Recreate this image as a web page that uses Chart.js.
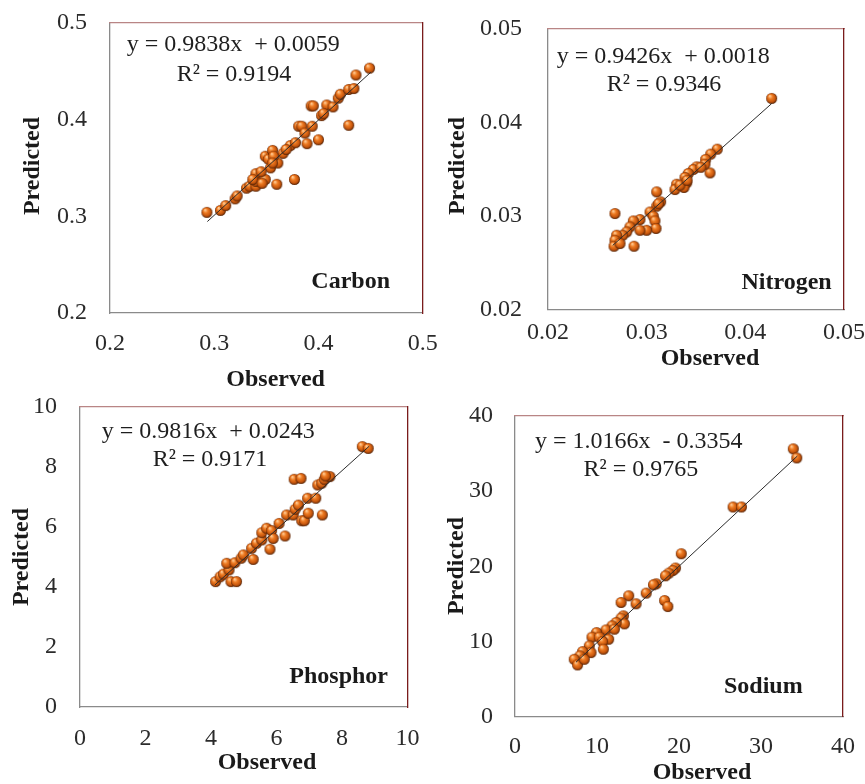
<!DOCTYPE html>
<html><head><meta charset="utf-8">
<script src="https://cdn.jsdelivr.net/npm/chart.js@4.4.1/dist/chart.umd.min.js"></script>
<style>
html,body{margin:0;padding:0;background:#fff;width:865px;height:784px;overflow:hidden;position:relative}
canvas{position:absolute;display:block}
</style></head><body>
<canvas id="c1" width="440" height="400" style="left:0px;top:0px"></canvas>
<canvas id="c2" width="445" height="400" style="left:430px;top:0px"></canvas>
<canvas id="c3" width="440" height="399" style="left:0px;top:385px"></canvas>
<canvas id="c4" width="445" height="399" style="left:430px;top:385px"></canvas>
<script>
// ---------------- DATA ----------------
const carbonObserved  = [0.293,0.306,0.311,0.320,0.322,0.331,0.334,0.340,0.340,0.340,0.349,0.360,0.377,0.349,0.352,0.356,0.354,0.361,0.366,0.373,0.378,0.381,0.384,0.387,0.389,0.394,0.400,0.403,0.393,0.395,0.408,0.414,0.419,0.421,0.429,0.434,0.429,0.436,0.449,0.405,0.357,0.345,0.337,0.356,0.369,0.346];
const carbonPredicted = [0.304,0.306,0.311,0.318,0.321,0.329,0.331,0.331,0.336,0.344,0.338,0.333,0.338,0.362,0.359,0.368,0.350,0.355,0.365,0.373,0.376,0.393,0.393,0.386,0.375,0.393,0.379,0.404,0.414,0.414,0.415,0.413,0.422,0.426,0.431,0.432,0.394,0.446,0.453,0.406,0.362,0.346,0.338,0.355,0.369,0.334];
const carbonTrendX = [0.2934, 0.4502];
const carbonTrendY = [0.2945, 0.4488];
const carbonTicks = [0.2, 0.3, 0.4, 0.5];

const nitrogenObserved  = [0.04267,0.03716,0.03649,0.03598,0.03642,0.03591,0.03507,0.03473,0.03422,0.03388,0.03406,0.03378,0.03304,0.03287,0.03338,0.03102,0.03142,0.03102,0.03034,0.03067,0.03084,0.03095,0.03000,0.02932,0.02932,0.02865,0.02831,0.02798,0.02757,0.02679,0.02696,0.02679,0.02669,0.02730,0.02872,0.03120,0.03410,0.03550];
const nitrogenPredicted = [0.04257,0.03714,0.03661,0.03604,0.03460,0.03553,0.03525,0.03497,0.03454,0.03411,0.03354,0.03304,0.03339,0.03282,0.03329,0.03257,0.03150,0.03104,0.03042,0.02996,0.02946,0.02865,0.02846,0.02961,0.02846,0.02946,0.02882,0.02828,0.02793,0.03025,0.02793,0.02739,0.02675,0.02704,0.02675,0.03130,0.03380,0.03520];
const nitrogenTrendX = [0.02656, 0.04267];
const nitrogenTrendY = [0.02684, 0.04202];
const nitrogenTicks = [0.02, 0.03, 0.04, 0.05];

const phosphorObserved  = [4.14,4.28,4.38,4.55,4.48,4.61,4.78,4.73,4.92,4.99,5.29,5.24,5.39,5.55,5.80,5.55,5.70,5.85,5.90,6.08,6.26,6.31,6.51,6.57,6.67,6.77,6.85,6.97,6.95,7.20,7.40,7.26,7.38,7.46,7.63,7.50,6.54,6.75,8.62,8.80];
const phosphorPredicted = [4.18,4.34,4.43,4.57,4.79,4.18,4.18,4.81,4.96,5.07,4.92,5.29,5.46,5.57,5.26,5.81,5.96,5.88,5.62,6.12,5.70,6.40,6.40,6.59,6.73,6.21,6.21,6.46,6.96,6.96,6.40,7.40,7.46,7.59,7.68,7.70,7.59,7.62,8.68,8.62];
const phosphorTrendX = [4.12, 8.83];
const phosphorTrendY = [4.068, 8.692];
const phosphorTicks = [0, 2, 4, 6, 8, 10];

const sodiumObserved  = [33.94,34.36,26.60,27.62,20.28,19.58,19.26,18.77,18.36,17.22,16.89,16.00,14.77,13.87,12.94,18.24,18.64,13.22,12.94,13.34,12.33,11.84,11.10,9.95,9.39,10.28,11.42,10.69,9.06,10.77,9.27,8.24,7.92,7.22,7.63,8.45,12.12];
const sodiumPredicted = [35.63,34.42,27.89,27.89,21.67,19.76,19.44,19.09,18.73,17.67,17.53,16.43,15.00,16.07,15.18,15.44,14.64,13.40,13.09,12.33,12.51,12.07,11.53,11.17,10.56,10.56,10.29,9.98,9.40,8.96,8.51,8.64,8.07,7.62,6.87,7.62,11.63];
const sodiumTrendX = [7.43, 34.43];
const sodiumTrendY = [7.218, 34.666];
const sodiumTicks = [0, 10, 20, 30, 40];

// ---------------- STYLE ----------------
const SERIF = "'Liberation Serif','Times New Roman',serif";
function makeSphere(r){
  const s = document.createElement('canvas');
  const d = r*2+2; s.width=d; s.height=d;
  const g = s.getContext('2d');
  const c = d/2;
  const grad = g.createRadialGradient(c-r*0.35, c-r*0.45, r*0.1, c, c, r);
  grad.addColorStop(0,'#ffc890');
  grad.addColorStop(0.35,'#ee7b22');
  grad.addColorStop(0.75,'#c4540c');
  grad.addColorStop(1,'#4e1f04');
  g.fillStyle=grad; g.beginPath(); g.arc(c,c,r,0,Math.PI*2); g.fill();
  return s;
}
const sphere = makeSphere(5.5);

const textPlugin = {
  id:'panelText',
  afterDraw(chart, args, o){
    const ctx = chart.ctx, a = chart.chartArea;
    ctx.save();
    ctx.fillStyle = '#1e1e1e';
    ctx.font = '24px ' + SERIF;
    ctx.textBaseline = 'middle';
    ctx.textAlign = 'left';
    ctx.fillText(o.eq, a.left + o.eqPos[0], a.top + o.eqPos[1]);
    ctx.textAlign = 'center';
    ctx.fillText(o.r2, a.left + o.r2Pos[0], a.top + o.r2Pos[1]);
    ctx.font = 'bold 24px ' + SERIF;
    ctx.fillStyle = '#1a1a1a';
    ctx.textAlign = 'right';
    ctx.fillText(o.name, a.right - o.namePos[0], a.bottom - o.namePos[1]);
    // axis titles (page coordinates -> canvas coordinates)
    ctx.textAlign = 'center';
    ctx.fillText('Observed', o.xTitle[0] - o.origin[0], o.xTitle[1] - o.origin[1]);
    ctx.translate(o.yTitle[0] - o.origin[0], o.yTitle[1] - o.origin[1]);
    ctx.rotate(-Math.PI/2);
    ctx.fillText('Predicted', 0, 0);
    ctx.restore();
  }
};

function buildPanel(p){
  const pts = p.obs.map((v,i)=>({x:v, y:p.pred[i]}));
  const trend = p.trendX.map((v,i)=>({x:v, y:p.trendY[i]}));
  const tickFont = {family:SERIF, size:24};
  new Chart(document.getElementById(p.id), {
    type:'scatter',
    data:{datasets:[
      {type:'line', data:trend, showLine:true, borderColor:'#2a2a2a', borderWidth:1, pointRadius:0, fill:false, order:0},
      {type:'scatter', data:pts, pointStyle:sphere, pointRadius:5, order:1}
    ]},
    options:{
      responsive:false, animation:false, events:[],
      layout:{padding:{top:p.padTop, right:p.padRight, left:0, bottom:0}},
      plugins:{legend:{display:false}, tooltip:{enabled:false}, panelText:p.text},
      scales:{
        x:{type:'linear', position:'bottom', min:p.ticks[0], max:p.ticks[p.ticks.length-1],
           afterBuildTicks:s=>{s.ticks=p.ticks.map(v=>({value:v}));},
           ticks:{font:tickFont, color:'#2b2b2b', padding:0, maxRotation:0, autoSkip:false, callback:v=>Number(v).toFixed(p.dec)},
           grid:{display:false, drawTicks:true, tickLength:p.xGap},
           border:{color:'#8a8a8a', width:1.3},
           afterFit:s=>{s.height=p.xH;}},
        y:{type:'linear', position:'left', min:p.ticks[0], max:p.ticks[p.ticks.length-1],
           afterBuildTicks:s=>{s.ticks=p.ticks.map(v=>({value:v}));},
           ticks:{font:tickFont, color:'#2b2b2b', padding:0, autoSkip:false, callback:v=>Number(v).toFixed(p.dec)},
           grid:{display:false, drawTicks:true, tickLength:p.yGap},
           border:{color:'#8a8a8a', width:1.3},
           afterFit:s=>{s.width=p.yW;}},
        x2:{type:'linear', position:'top', min:0, max:1, ticks:{display:false}, grid:{display:false, drawTicks:false},
           border:{color:'#b98585', width:1.3}, afterFit:s=>{s.height=0;}},
        y2:{type:'linear', position:'right', min:0, max:1, ticks:{display:false}, grid:{display:false, drawTicks:false},
           border:{color:'#7a1c1c', width:1.3}, afterFit:s=>{s.width=0;}}
      }
    },
    plugins:[textPlugin]
  });
}

buildPanel({id:'c1', obs:carbonObserved, pred:carbonPredicted, trendX:carbonTrendX, trendY:carbonTrendY, ticks:carbonTicks, dec:1,
  padTop:22.7, padRight:17.3, yW:110, xH:87, xGap:16, yGap:23,
  text:{eq:'y = 0.9838x  + 0.0059', r2:'R\u00B2 = 0.9194', name:'Carbon', eqPos:[16.7,22.3], r2Pos:[124,52.3], namePos:[32.7,31.3],
        origin:[0,0], xTitle:[275.6,380], yTitle:[33,166]}});
buildPanel({id:'c2', obs:nitrogenObserved, pred:nitrogenPredicted, trendX:nitrogenTrendX, trendY:nitrogenTrendY, ticks:nitrogenTicks, dec:2,
  padTop:29, padRight:31, yW:118, xH:90.7, xGap:9, yGap:26,
  text:{eq:'y = 0.9426x  + 0.0018', r2:'R\u00B2 = 0.9346', name:'Nitrogen', eqPos:[8.7,27.7], r2Pos:[116,56], namePos:[12.3,26.3],
        origin:[430,0], xTitle:[710,359], yTitle:[458,166]}});
buildPanel({id:'c3', obs:phosphorObserved, pred:phosphorPredicted, trendX:phosphorTrendX, trendY:phosphorTrendY, ticks:phosphorTicks, dec:0,
  padTop:22, padRight:32.5, yW:80, xH:77, xGap:17, yGap:23,
  text:{eq:'y = 0.9816x  + 0.0243', r2:'R\u00B2 = 0.9171', name:'Phosphor', eqPos:[21.7,24.7], r2Pos:[130,53], namePos:[19.5,30.3],
        origin:[0,385], xTitle:[267,763], yTitle:[22,557]}});
buildPanel({id:'c4', obs:sodiumObserved, pred:sodiumPredicted, trendX:sodiumTrendX, trendY:sodiumTrendY, ticks:sodiumTicks, dec:0,
  padTop:31, padRight:32, yW:85, xH:67.5, xGap:16, yGap:22,
  text:{eq:'y = 1.0166x  - 0.3354', r2:'R\u00B2 = 0.9765', name:'Sodium', eqPos:[20,25.7], r2Pos:[125.8,54], namePos:[40.3,29.8],
        origin:[430,385], xTitle:[702,773], yTitle:[457,566]}});
</script>
</body></html>
